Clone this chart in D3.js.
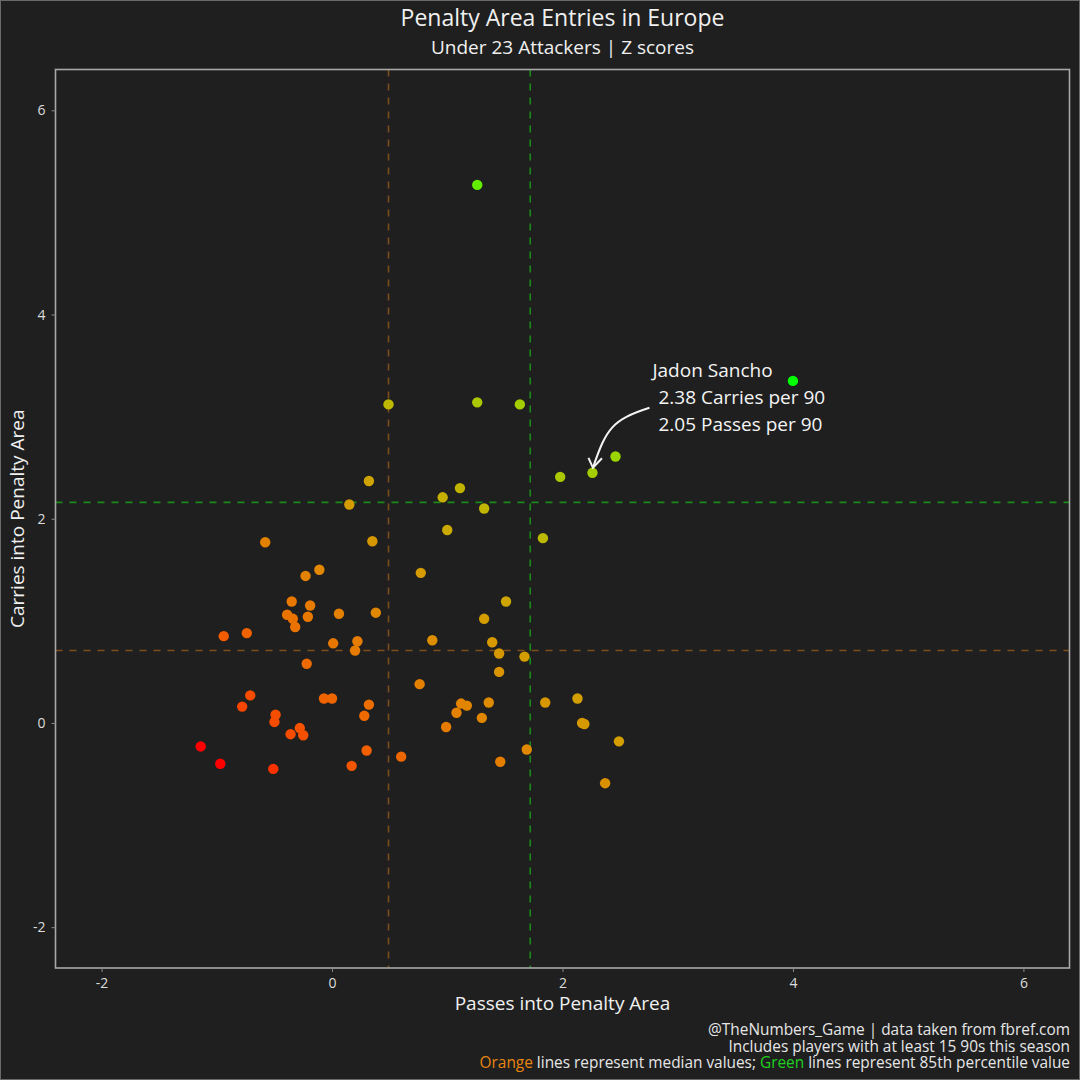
<!DOCTYPE html>
<html><head><meta charset="utf-8">
<script src="https://cdn.jsdelivr.net/npm/d3@7"></script>
<style>html,body{margin:0;padding:0;background:#1f1f1f;}svg{display:block;}</style>
</head><body>
<svg id="c" width="1080" height="1080"></svg>
<script>
// Z-scores: passes into penalty area (x) and carries into penalty area (y)
const passesZ = [1.26,4.00,0.49,1.26,1.63,2.46,2.26,1.98,0.32,1.11,0.96,0.15,1.32,1.00,1.83,-0.58,0.35,0.77,-0.11,-0.23,1.51,-0.35,0.06,-0.19,0.38,-0.39,-0.34,-0.21,1.32,-0.32,-0.94,-0.74,0.87,1.39,0.01,0.22,0.20,1.45,1.67,-0.22,1.45,0.76,-0.71,-0.78,-0.07,0.00,0.32,2.13,1.85,1.12,1.17,1.36,1.08,0.28,-0.49,-0.50,1.30,2.17,2.19,0.99,2.49,-0.28,-0.36,-0.25,-1.14,0.30,1.69,-0.97,0.60,0.17,-0.51,1.46,2.37];
const carriesZ = [5.27,3.35,3.12,3.14,3.12,2.61,2.45,2.41,2.37,2.30,2.21,2.14,2.10,1.89,1.81,1.77,1.78,1.47,1.50,1.44,1.19,1.19,1.07,1.15,1.08,1.06,1.02,1.04,1.02,0.94,0.85,0.88,0.81,0.79,0.78,0.80,0.71,0.68,0.65,0.58,0.50,0.38,0.27,0.16,0.24,0.24,0.18,0.24,0.20,0.19,0.17,0.20,0.10,0.07,0.08,0.01,0.05,0.00,-0.01,-0.04,-0.18,-0.05,-0.11,-0.12,-0.23,-0.27,-0.26,-0.40,-0.33,-0.42,-0.45,-0.38,-0.59];
const highlightIndex = 6;
const highlightName = "Jadon Sancho";
const highlightLines = ["2.38 Carries per 90", "2.05 Passes per 90"];
const medianPasses = 0.49, medianCarries = 0.71;
const p85Passes = 1.72, p85Carries = 2.16;
const xTicks = [-2,0,2,4,6];
const yTicks = [-2,0,2,4,6];
const titleText = "Penalty Area Entries in Europe";
const subtitleText = "Under 23 Attackers | Z scores";
const xLabel = "Passes into Penalty Area";
const yLabel = "Carries into Penalty Area";

const data = passesZ.map((p,i)=>({x:p, y:carriesZ[i], s:p+carriesZ[i]}));

const svg = d3.select("#c");
const W=1080,H=1080;
const FONT = "'Open Sans', 'Noto Sans', sans-serif";
svg.append("rect").attr("x",0.5).attr("y",0.5).attr("width",W-1).attr("height",H-1)
  .attr("fill","#1f1f1f").attr("stroke","#6a6a6a").attr("stroke-width",1);

const x = d3.scaleLinear().domain([-2.4,6.4]).range([55.5,1069.5]);
const y = d3.scaleLinear().domain([-2.4,6.4]).range([968,69.5]);
const sExt = d3.extent(data,d=>d.s);
const color = d3.scaleLinear().domain(sExt).range(["#ff0000","#00ff00"]).interpolate(d3.interpolateLab);

// reference lines
const g = svg.append("g");
function vline(v,c){g.append("line").attr("x1",x(v)).attr("x2",x(v)).attr("y1",y.range()[1]).attr("y2",y.range()[0])
  .attr("stroke",c).attr("stroke-width",1.6).attr("stroke-dasharray","7,7");}
function hline(v,c){g.append("line").attr("y1",y(v)).attr("y2",y(v)).attr("x1",x.range()[0]).attr("x2",x.range()[1])
  .attr("stroke",c).attr("stroke-width",1.6).attr("stroke-dasharray","7,7");}
const orangeLine="#7d4e1c", greenLine="#1a8a1a";
vline(medianPasses,orangeLine); hline(medianCarries,orangeLine);
vline(p85Passes,greenLine); hline(p85Carries,greenLine);

// points
svg.append("g").selectAll("circle").data(data).join("circle")
  .attr("cx",d=>x(d.x)).attr("cy",d=>y(d.y)).attr("r",5.2)
  .attr("fill",d=>color(d.s));

// panel border
svg.append("rect").attr("x",x.range()[0]).attr("y",y.range()[1])
  .attr("width",x.range()[1]-x.range()[0]).attr("height",y.range()[0]-y.range()[1])
  .attr("fill","none").attr("stroke","#a8a8a8").attr("stroke-width",1.6);

// axes
const fmt = d => String(d);
const xAxis = svg.append("g").attr("transform",`translate(0,${y.range()[0]})`)
  .call(d3.axisBottom(x).tickValues(xTicks).tickSize(4).tickPadding(6).tickFormat(fmt));
const yAxis = svg.append("g").attr("transform",`translate(${x.range()[0]},0)`)
  .call(d3.axisLeft(y).tickValues(yTicks).tickSize(4).tickPadding(6).tickFormat(fmt));
[xAxis,yAxis].forEach(a=>{
  a.select(".domain").remove();
  a.selectAll(".tick line").attr("stroke","#888").attr("stroke-width",1);
  a.selectAll(".tick text").attr("fill","#dcdcdc").style("font-family",FONT).style("font-size","14px");
});

// titles
svg.append("text").attr("x",562.5).attr("y",26).attr("text-anchor","middle").attr("fill","#f0f0f0")
  .style("font-family",FONT).style("font-size","23px").text(titleText);
svg.append("text").attr("x",562.5).attr("y",54).attr("text-anchor","middle").attr("fill","#f0f0f0")
  .style("font-family",FONT).style("font-size","19px").text(subtitleText);
svg.append("text").attr("x",562.5).attr("y",1010).attr("text-anchor","middle").attr("fill","#f0f0f0")
  .style("font-family",FONT).style("font-size","19px").text(xLabel);
svg.append("text").attr("transform",`translate(24,${(y.range()[0]+y.range()[1])/2}) rotate(-90)`)
  .attr("text-anchor","middle").attr("fill","#f0f0f0")
  .style("font-family",FONT).style("font-size","19px").text(yLabel);

// caption
const cap = svg.append("g").style("font-family",FONT).style("font-size","15.4px").attr("text-anchor","end");
cap.append("text").attr("x",1070).attr("y",1035).attr("fill","#e6e6e6").text("@TheNumbers_Game | data taken from fbref.com");
cap.append("text").attr("x",1070).attr("y",1051.5).attr("fill","#e6e6e6").text("Includes players with at least 15 90s this season");
const t3 = cap.append("text").attr("x",1070).attr("y",1068).attr("fill","#e6e6e6");
t3.append("tspan").attr("fill","#e8850f").text("Orange");
t3.append("tspan").text(" lines represent median values; ");
t3.append("tspan").attr("fill","#1fd01f").text("Green");
t3.append("tspan").text(" lines represent 85th percentile value");

// annotation
const h = data[highlightIndex];
const hx = x(h.x), hy = y(h.y);
const ann = svg.append("g").style("font-family",FONT).style("font-size","19px").attr("fill","#f4f4f4");
ann.append("text").attr("x",hx+60).attr("y",hy-96).text(highlightName);
highlightLines.forEach((t,i)=>ann.append("text").attr("x",hx+66).attr("y",hy-69+27*i).text(t));
const tipX = hx+0.5, tipY = hy-5;
const p = d3.path();
p.moveTo(hx+57, hy-65);
p.bezierCurveTo(hx+20, hy-53, hx+14, hy-45, tipX, tipY);
svg.append("path").attr("d",p.toString()).attr("fill","none").attr("stroke","#f4f4f4").attr("stroke-width",2);
svg.append("path").attr("d",`M${tipX-4.5},${tipY-10}L${tipX},${tipY}L${tipX+9},${tipY-9.5}`)
  .attr("fill","none").attr("stroke","#f4f4f4").attr("stroke-width",2);
</script>
</body></html>
